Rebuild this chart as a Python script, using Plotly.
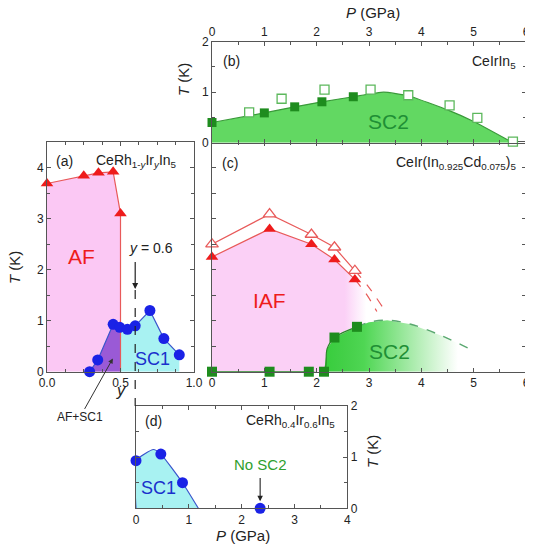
import plotly.graph_objects as go

W, H = 533, 550
OFF = 8  # page body margin of the browser

# ---------------- Panel (a): CeRh1-yIryIn5 ----------------
a_af_y = [0.0, 0.25, 0.35, 0.45, 0.5]
a_af_T = [3.69, 3.84, 3.90, 3.92, 3.10]
a_sc_y = [0.29, 0.345, 0.45, 0.495, 0.547, 0.6, 0.7, 0.795, 0.9]
a_sc_T = [0.0, 0.23, 0.93, 0.87, 0.83, 0.90, 1.20, 0.65, 0.33]
a_pink_x = [0.0, 0.0, 0.25, 0.35, 0.45, 0.5, 0.5]
a_pink_T = [0.0, 3.69, 3.84, 3.90, 3.92, 3.10, 0.0]
a_purple_x = [0.29, 0.345, 0.45, 0.495, 0.5, 0.5]
a_purple_T = [0.0, 0.23, 0.93, 0.87, 0.868, 0.0]
a_cyan_x = [0.5, 0.5, 0.547, 0.6, 0.7, 0.795, 0.9, 0.9]
a_cyan_T = [0.0, 0.868, 0.83, 0.90, 1.20, 0.65, 0.33, 0.0]

# ---------------- Panel (b): CeIrIn5 ----------------
b_fill_P = [0.0, 1.0, 1.58, 2.1, 2.7, 3.28, 3.75, 4.5, 5.0, 5.75]
b_fill_T = [0.40, 0.59, 0.71, 0.81, 0.91, 1.00, 0.93, 0.65, 0.42, 0.0]
b_full_P = [0.0, 1.0, 1.58, 2.1, 2.7]
b_full_T = [0.40, 0.59, 0.71, 0.81, 0.91]
b_open_P = [0.71, 1.33, 2.15, 3.03, 3.75, 4.54, 5.07, 5.75]
b_open_T = [0.60, 0.87, 1.05, 1.05, 0.94, 0.74, 0.49, 0.02]

# ---------------- Panel (c): CeIr(In0.925Cd0.075)5 ----------------
c_tri_P = [0.0, 1.1, 1.9, 2.34, 2.73]
c_tri_full_T = [2.25, 2.80, 2.50, 2.20, 1.81]
c_tri_open_T = [2.50, 3.09, 2.69, 2.44, 1.98]
c_ext_full_P = [2.73, 2.95, 3.15]
c_ext_full_T = [1.81, 1.52, 1.18]
c_ext_open_P = [2.73, 2.98, 3.25]
c_ext_open_T = [1.98, 1.68, 1.28]
c_sq_P = [0.0, 1.1, 1.85, 2.14, 2.34, 2.77]
c_sq_T = [0.0, 0.0, 0.0, 0.0, 0.67, 0.88]
c_scline_P = [0.0, 1.1, 1.85, 2.14, 2.2, 2.34, 2.77]
c_scline_T = [0.0, 0.0, 0.0, 0.0, 0.45, 0.67, 0.88]
c_dash_P = [2.77, 3.0, 3.35, 3.8, 4.4, 5.0]
c_dash_T = [0.88, 0.97, 1.01, 0.93, 0.70, 0.41]
c_pink_P = [0.0, 0.0, 1.1, 1.9, 2.34, 2.73, 2.95, 2.95]
c_pink_T = [0.0, 2.25, 2.80, 2.50, 2.20, 1.81, 1.52, 0.0]
c_green_P = [2.14, 2.2, 2.34, 2.77, 3.0, 3.35, 3.8, 4.4, 5.0, 5.0]
c_green_T = [0.0, 0.45, 0.67, 0.88, 0.97, 1.01, 0.93, 0.70, 0.41, 0.0]

# ---------------- Panel (d): CeRh0.4Ir0.6In5 ----------------
d_P = [0.0, 0.47, 0.88, 2.35]
d_T = [0.93, 1.06, 0.50, 0.0]
d_fill_P = [0.0, 0.0, 0.33, 0.47, 0.88, 1.18]
d_fill_T = [0.0, 0.93, 1.15, 1.06, 0.50, 0.0]

RED = "#ee1c1c"
REDL = "#e85a5a"
BLUE = "#1a22e6"
BLUEL = "#3a55cc"
GREEN_D = "#1e8c1e"
GREEN_T = "#1f8f35"
PINK = "#fbc8f4"
PURPLE = "#9a5ad6"
CYAN = "#a8f2f2"

fig = go.Figure()

# ---- panel (a) ----
fig.add_trace(go.Scatter(x=a_pink_x, y=a_pink_T, fill="toself", fillcolor=PINK,
                         line=dict(width=0), mode="lines", xaxis="x", yaxis="y", hoverinfo="skip"))
fig.add_trace(go.Scatter(x=a_purple_x, y=a_purple_T, fill="toself", fillcolor=PURPLE,
                         line=dict(width=0), mode="lines", xaxis="x", yaxis="y", hoverinfo="skip"))
fig.add_trace(go.Scatter(x=a_cyan_x, y=a_cyan_T, fill="toself", fillcolor=CYAN,
                         line=dict(width=0), mode="lines", xaxis="x", yaxis="y", hoverinfo="skip"))
fig.add_trace(go.Scatter(x=a_af_y + [a_af_y[-1]], y=a_af_T + [0.0], mode="lines",
                         line=dict(color=REDL, width=1.2), xaxis="x", yaxis="y"))
fig.add_trace(go.Scatter(x=a_af_y, y=a_af_T, mode="markers",
                         marker=dict(symbol="triangle-up", size=11, color=RED), xaxis="x", yaxis="y",
                         cliponaxis=False))
fig.add_trace(go.Scatter(x=a_sc_y, y=a_sc_T, mode="lines+markers",
                         line=dict(color=BLUEL, width=1.2),
                         marker=dict(symbol="circle", size=11, color=BLUE), xaxis="x", yaxis="y",
                         cliponaxis=False))

# ---- panel (c) ----
fig.add_trace(go.Scatter(x=c_pink_P, y=c_pink_T, fill="toself", mode="lines", line=dict(width=0),
                         fillgradient=dict(type="horizontal", start=0.0, stop=2.95,
                                           colorscale=[[0, "rgba(251,208,246,1)"], [0.86, "rgba(251,208,246,1)"],
                                                       [1, "rgba(251,208,246,0)"]]),
                         xaxis="x2", yaxis="y2", hoverinfo="skip"))
fig.add_trace(go.Scatter(x=c_green_P, y=c_green_T, fill="toself", mode="lines", line=dict(width=0),
                         fillgradient=dict(type="horizontal", start=2.14, stop=4.7,
                                           colorscale=[[0, "rgba(55,205,60,1)"], [0.3, "rgba(60,210,65,0.9)"],
                                                       [1, "rgba(60,210,65,0)"]]),
                         xaxis="x2", yaxis="y2", hoverinfo="skip"))
fig.add_trace(go.Scatter(x=c_dash_P, y=c_dash_T, mode="lines", line=dict(color="#5aa870", width=1.4, dash="dash", shape="spline"),
                         xaxis="x2", yaxis="y2"))
fig.add_trace(go.Scatter(x=c_scline_P, y=c_scline_T, mode="lines", line=dict(color="#2a8a2a", width=1.2, shape="spline"),
                         xaxis="x2", yaxis="y2"))
fig.add_trace(go.Scatter(x=c_sq_P, y=c_sq_T, mode="markers",
                         marker=dict(symbol="square", size=10, color=GREEN_D), xaxis="x2", yaxis="y2",
                         cliponaxis=False))
fig.add_trace(go.Scatter(x=c_ext_full_P, y=c_ext_full_T, mode="lines",
                         line=dict(color=REDL, width=1.2, dash="dash", shape="spline"), xaxis="x2", yaxis="y2"))
fig.add_trace(go.Scatter(x=c_ext_open_P, y=c_ext_open_T, mode="lines",
                         line=dict(color=REDL, width=1.2, dash="dash", shape="spline"), xaxis="x2", yaxis="y2"))
fig.add_trace(go.Scatter(x=c_tri_P, y=c_tri_open_T, mode="lines+markers",
                         line=dict(color=REDL, width=1.2),
                         marker=dict(symbol="triangle-up", size=11, color="white", line=dict(color=REDL, width=1.3)),
                         xaxis="x2", yaxis="y2", cliponaxis=False))
fig.add_trace(go.Scatter(x=c_tri_P, y=c_tri_full_T, mode="lines+markers",
                         line=dict(color=REDL, width=1.2),
                         marker=dict(symbol="triangle-up", size=11, color=RED),
                         xaxis="x2", yaxis="y2", cliponaxis=False))

# ---- panel (b) ----
fig.add_trace(go.Scatter(x=b_fill_P, y=b_fill_T, fill="tozeroy", fillcolor="#62d862", mode="lines",
                         line=dict(color="#3a9a3a", width=1.2, shape="spline", smoothing=0.4),
                         xaxis="x3", yaxis="y3"))
fig.add_trace(go.Scatter(x=b_open_P, y=b_open_T, mode="markers",
                         marker=dict(symbol="square", size=9, color="white", line=dict(color="#5cb85c", width=1.3)),
                         xaxis="x3", yaxis="y3", cliponaxis=False))
fig.add_trace(go.Scatter(x=b_full_P, y=b_full_T, mode="markers",
                         marker=dict(symbol="square", size=9, color=GREEN_D),
                         xaxis="x3", yaxis="y3", cliponaxis=False))

# ---- panel (d) ----
fig.add_trace(go.Scatter(x=d_fill_P, y=d_fill_T, fill="toself", fillcolor=CYAN, mode="lines",
                         line=dict(color=BLUEL, width=1.2, shape="spline", smoothing=0.5),
                         xaxis="x4", yaxis="y4"))
fig.add_trace(go.Scatter(x=d_P, y=d_T, mode="markers",
                         marker=dict(symbol="circle", size=11, color=BLUE),
                         xaxis="x4", yaxis="y4", cliponaxis=False))

for t in fig.data:
    t.showlegend = False

def px_x(v):
    return (v - OFF) / W

def px_y(v):
    return 1 - (v - OFF) / H

AX = dict(showline=True, linecolor="#555", linewidth=1, mirror="allticks", ticks="inside",
          ticklen=4, tickcolor="#555", showgrid=False, zeroline=False, automargin=False,
          tickfont=dict(family="Liberation Sans, Arial", size=12, color="#222"))
MINOR = dict(ticks="inside", ticklen=3, tickcolor="#555", showgrid=False)

ya_dom = [px_y(371.7), px_y(142.2)]

fig.update_layout(
    width=W, height=H,
    margin=dict(l=0, r=0, t=0, b=0, autoexpand=False),
    paper_bgcolor="white", plot_bgcolor="rgba(0,0,0,0)",
    font=dict(family="Liberation Sans, Arial", color="#222"),
    xaxis=dict(AX, domain=[px_x(47), px_x(194)], range=[0, 1.0], anchor="y",
               tickvals=[0, 0.5, 1.0], ticktext=["0.0", "0.5", "1.0"], minor=dict(MINOR, dtick=0.125)),
    yaxis=dict(AX, domain=ya_dom, range=[0, 4.5], anchor="x", dtick=1, minor=dict(MINOR, dtick=0.5)),
    xaxis2=dict(AX, domain=[px_x(212), px_x(526)], range=[0, 6], anchor="y2", dtick=1,
                minor=dict(MINOR, dtick=0.5)),
    yaxis2=dict(AX, domain=ya_dom, range=[0, 4.5], anchor="x2", dtick=0.5, showticklabels=False),
    xaxis3=dict(AX, domain=[px_x(212), px_x(526)], range=[0, 6], anchor="y3", side="top", dtick=1,
                minor=dict(MINOR, dtick=0.5)),
    yaxis3=dict(AX, domain=[px_y(142.7), px_y(41.7)], range=[0, 2], anchor="x3", dtick=1,
                minor=dict(MINOR, dtick=0.5)),
    xaxis4=dict(AX, domain=[px_x(136), px_x(347.3)], range=[0, 4], anchor="y4", dtick=1,
                minor=dict(MINOR, dtick=0.5)),
    yaxis4=dict(AX, domain=[px_y(508.3), px_y(406)], range=[0, 2], anchor="x4", side="right", dtick=1,
                minor=dict(MINOR, dtick=0.5)),
)

F = "Liberation Sans, Arial"
ann = []

def txt(text, x, y, xref, yref, size=14, color="#222", xanchor="center", yanchor="middle", angle=0):
    ann.append(dict(text=text, x=x, y=y, xref=xref, yref=yref, showarrow=False,
                    font=dict(family=F, size=size, color=color), xanchor=xanchor, yanchor=yanchor,
                    textangle=angle))

# panel (a)
txt("(a)", 0.05, 4.13, "x", "y", 14, xanchor="left")
txt("CeRh<sub>1-<i>y</i></sub>Ir<sub><i>y</i></sub>In<sub>5</sub>", 0.32, 4.13, "x", "y", 14, xanchor="left")
txt("AF", 0.235, 2.25, "x", "y", 21, RED)
txt("SC1", 0.72, 0.24, "x", "y", 18, "#1a30cc")
txt("<i>y</i> = 0.6", 0.71, 2.42, "x", "y", 14)
txt("<i>y</i>", px_x(121), px_y(390), "paper", "paper", 16)
txt("<i>T</i> (K)", px_x(15), px_y(268), "paper", "paper", 15, angle=-90)
ann.append(dict(x=0.6, y=1.62, ax=0.6, ay=2.18, xref="x", yref="y", axref="x", ayref="y",
                showarrow=True, arrowhead=2, arrowsize=1, arrowwidth=1.2, arrowcolor="#222", text=""))
ann.append(dict(x=0.448, y=0.26, xref="x", yref="y", ax=-33, ay=59, text="AF+SC1",
                showarrow=True, arrowhead=2, arrowsize=1, arrowwidth=1, arrowcolor="#333",
                font=dict(family=F, size=12, color="#222")))

# panel (b)
txt("(b)", 0.17, 1.62, "x3", "y3", 14, xanchor="left")
txt("CeIrIn<sub>5</sub>", 5.85, 1.6, "x3", "y3", 14, xanchor="right")
txt("SC2", 3.37, 0.42, "x3", "y3", 21, GREEN_T)
txt("<i>P</i> (GPa)", px_x(373), px_y(12), "paper", "paper", 15)
txt("<i>T</i> (K)", px_x(184), px_y(80), "paper", "paper", 15, angle=-90)

# panel (c)
txt("(c)", 0.16, 4.09, "x2", "y2", 14, xanchor="left")
txt("CeIr(In<sub>0.925</sub>Cd<sub>0.075</sub>)<sub>5</sub>", 5.85, 4.09, "x2", "y2", 14, xanchor="right")
txt("IAF", 1.1, 1.4, "x2", "y2", 21, RED)
txt("SC2", 3.4, 0.39, "x2", "y2", 21, GREEN_T)

# panel (d)
txt("(d)", 0.14, 1.7, "x4", "y4", 14, xanchor="left")
txt("CeRh<sub>0.4</sub>Ir<sub>0.6</sub>In<sub>5</sub>", 3.8, 1.7, "x4", "y4", 14, xanchor="right")
txt("SC1", 0.42, 0.39, "x4", "y4", 18, "#1a30cc")
txt("No SC2", 2.35, 0.85, "x4", "y4", 15, "#2ea02e")
txt("<i>P</i> (GPa)", px_x(243), px_y(535), "paper", "paper", 15)
txt("<i>T</i> (K)", px_x(372), px_y(452), "paper", "paper", 15, angle=-90)
ann.append(dict(x=2.35, y=0.14, ax=2.35, ay=0.62, xref="x4", yref="y4", axref="x4", ayref="y4",
                showarrow=True, arrowhead=2, arrowsize=1, arrowwidth=1.1, arrowcolor="#222", text=""))

fig.update_layout(annotations=ann)

fig.add_shape(type="line", xref="x", yref="paper", x0=0.6, x1=0.6, y0=px_y(290), y1=px_y(406),
              line=dict(color="#222", width=1.2, dash="dash"), layer="above")

fig.write_html("out.html")
